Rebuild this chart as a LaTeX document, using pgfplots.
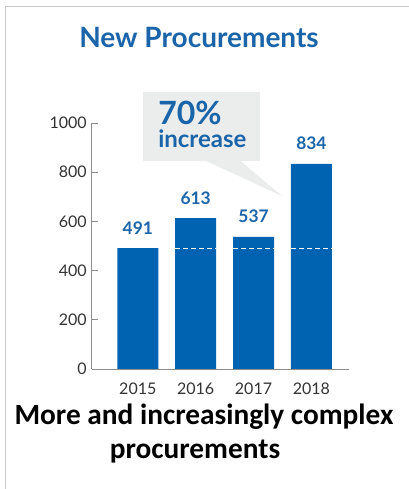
\documentclass[border=0pt]{standalone}
\usepackage{fontspec}
\setmainfont{Lato}
\newfontfamily\carlito{Carlito}
\usepackage{pgfplots}
\pgfplotsset{compat=1.18}
\definecolor{barblue}{HTML}{0063B1}
\definecolor{titleblue}{HTML}{1A64AA}
\definecolor{calloutgray}{HTML}{EBEDED}
\definecolor{framegray}{HTML}{C8C8C8}
\definecolor{axisgray}{HTML}{8C8C8C}
\definecolor{ticktext}{HTML}{333333}
\begin{document}
\begin{tikzpicture}[x=0.75pt,y=0.75pt]
\useasboundingbox (0,0) rectangle (409,489);
\fill[white] (0,0) rectangle (409,489);
\draw[framegray, line width=1.1pt] (5.5,0) -- (5.5,482.5) -- (409,482.5);
% callout
\fill[calloutgray] (143,397) rectangle (260,328);
\fill[calloutgray] (205,328.5) -- (282,293) -- (240,328.5) -- cycle;
\node[anchor=base west, inner sep=0pt, text=titleblue, font=\bfseries\fontsize{24}{26}\selectfont] at (158,364) {70\%};
\node[anchor=base west, inner sep=0pt, text=titleblue, font=\bfseries\fontsize{18}{20}\selectfont] at (158,341) {increase};
% title
\node[anchor=base, inner sep=0pt, text=titleblue, font=\bfseries\fontsize{21}{23}\selectfont] at (199,441) {New Procurements};
\begin{axis}[
  at={(68.625pt,90pt)}, anchor=south west,
  width=193.125pt, height=184.5pt, scale only axis,
  xmin=-0.8, xmax=3.65, ymin=0, ymax=1000,
  axis x line=bottom, axis y line=left,
  axis line style={-, draw=axisgray, line width=0.7pt},
  xtick={0,1,2,3}, xticklabels={2015,2016,2017,2018},
  ytick={0,200,400,600,800,1000},
  major x tick style={draw=none},
  major y tick style={draw=axisgray, line width=0.7pt},
  tick align=inside, major tick length=5pt,
  /pgf/number format/assume math mode=true,
  /pgf/number format/1000 sep={},
  xticklabel style={anchor=base, inner sep=0pt, yshift=-19.5pt, text=ticktext, font=\fontsize{12}{14}\selectfont},
  yticklabel style={anchor=east, inner sep=0pt, xshift=-3.4pt, text=ticktext, font=\fontsize{12}{14}\selectfont},
  clip=false,
]
\addplot[ybar, bar width=30.75pt, fill=barblue, draw=none,
  nodes near coords,
  nodes near coords style={anchor=base, inner sep=0pt, yshift=10.5pt, text=titleblue, font=\bfseries\fontsize{13}{15}\selectfont}]
  coordinates {(0,491) (1,613) (2,537) (3,834)};
\addplot[sharp plot, white, line width=0.9pt, dash pattern=on 3.75pt off 2.25pt, forget plot] coordinates {(0.645,491) (1.355,491)};
\addplot[sharp plot, white, line width=0.9pt, dash pattern=on 3.75pt off 2.25pt, forget plot] coordinates {(1.645,491) (2.355,491)};
\addplot[sharp plot, white, line width=0.9pt, dash pattern=on 3.75pt off 2.25pt, forget plot] coordinates {(2.645,491) (3.355,491)};
\end{axis}
% bottom caption
\node[anchor=base, inner sep=0pt, font=\carlito\bfseries\fontsize{22}{26}\selectfont] at (204,64) {More and increasingly complex};
\node[anchor=base, inner sep=0pt, font=\carlito\bfseries\fontsize{22}{26}\selectfont] at (195,31) {procurements};
\end{tikzpicture}
\end{document}
